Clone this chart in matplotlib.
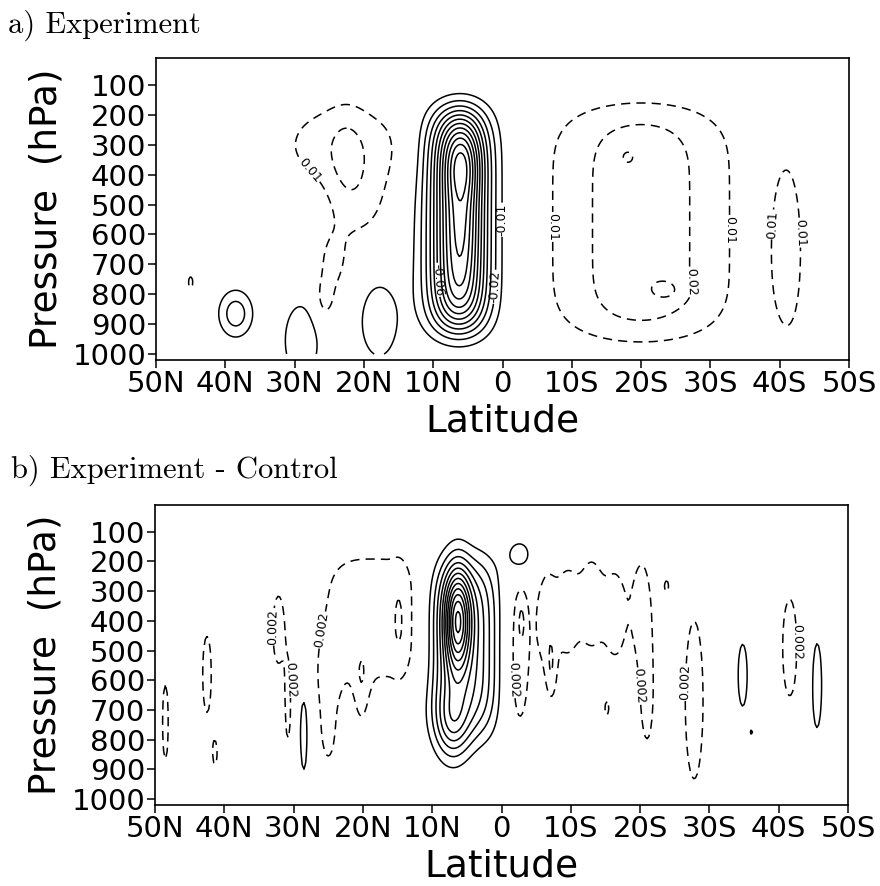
import numpy as np
import matplotlib
matplotlib.use("Agg")
import matplotlib.pyplot as plt

# latitude ticks (deg N positive) and their labels
lat_ticks = [50, 40, 30, 20, 10, 0, -10, -20, -30, -40, -50]
lat_labels = ["50N", "40N", "30N", "20N", "10N", "0", "10S", "20S", "30S", "40S", "50S"]
p_ticks = [100, 200, 300, 400, 500, 600, 700, 800, 900, 1000]

# panel a: cells
# centre lat, centre p, widths, amplitude, shape powers (lat, p)
a_lat = [6.3, 5.8, 5.8, 23.0, 22.5, 20.5, 24.5, 25.8, 38.5, 29.0, 17.8, 45.0,
         -20.0, -18.0, -23.7, -41.2]
a_p = [553, 360, 560, 300, 340, 500, 700, 830, 865, 955, 890, 760,
       560, 340, 786, 657]
a_wlat = [4.3, 2.5, 2.5, 10.0, 2.5, 4.5, 2.8, 1.6, 2.5, 2.8, 3.2, 0.8,
          12.8, 1.2, 2.5, 3.1]
a_wp = [368, 120, 200, 160, 150, 150, 130, 80, 80, 140, 150, 50,
        400, 30, 40, 420]
a_amp = [-0.10, -0.025, -0.015, 0.016, 0.008, 0.011, 0.0115, 0.011, -0.026, -0.02,
         -0.018, 0.0115,
         0.027, 0.006, 0.009, 0.0125]
a_plat = [2] * 16
a_pp = [6] + [2] * 11 + [6, 2, 2, 2]

# panel b: experiment minus control
b_lat = [5.5, 6.3, 7.0, -2.6, 48.5, 42.5, 41.3, 32.2, 30.8, 28.5, 25.0,
         18.6, 20.2, 14.8,
         -2.6, -2.9, -6.5, -9.5, -13.0, -16.5, -20.2, -7.2, -21.0,
         -15.2, -23.8, -27.8, -34.8, -36.1, -41.6, -45.5]
b_p = [490, 400, 760, 180, 741, 580, 848, 430, 700, 778, 729,
       390, 640, 400,
       530, 400, 390, 370, 340, 380, 350, 570, 650,
       697, 283, 667, 583, 775, 490, 616]
b_wlat = [4.7, 1.8, 2.5, 2.2, 0.8, 1.2, 0.6, 1.5, 0.6, 0.9, 2.0,
          8.6, 1.2, 1.0,
          2.2, 0.7, 1.6, 2.0, 2.0, 2.0, 1.6, 0.8, 1.4,
          0.6, 0.7, 2.5, 1.27, 0.3, 2.0, 1.37]
b_wp = [295, 170, 120, 72, 242, 250, 78, 210, 180, 222, 246,
        260, 150, 150,
        360, 90, 200, 200, 200, 200, 200, 110, 250,
        50, 45, 517, 203, 15, 317, 287]
b_amp = [-0.010, -0.015, -0.006, -0.0038, 0.0026, 0.0026, 0.0022, 0.0026, 0.0026,
         -0.0028, 0.0026,
         0.0028, 0.0024, 0.0018,
         0.0027, 0.0022, 0.003, 0.003, 0.003, 0.003, 0.003, 0.0026, 0.0028,
         0.0022, 0.0022, 0.0026, -0.0026, -0.0021, 0.0026, -0.0026]
b_plat = [3, 2, 2, 2, 2, 2, 2, 2, 2, 2, 2, 3] + [2] * 18
b_pp = [4, 2, 2, 2, 2, 2, 2, 2, 2, 2, 2, 4] + [2] * 18

a_pos_levels = [0.01, 0.02, 0.03]
a_neg_levels = [-0.13, -0.12, -0.11, -0.10, -0.09, -0.08, -0.07, -0.06, -0.05,
                -0.04, -0.03, -0.02, -0.01]
b_pos_levels = [0.002, 0.004]
b_neg_levels = [-0.026, -0.024, -0.022, -0.020, -0.018, -0.016, -0.014, -0.012,
                -0.010, -0.008, -0.006, -0.004, -0.002]

# label spots (lat, p)
a_label_pts = [(-0.6, 551), (1.4, 775), (9.4, 752), (29.7, 424), (-7.3, 575),
               (-31.1, 585), (-28.8, 752), (-40.0, 568), (-41.8, 595)]
b_label_pts = [(32.7, 420), (30.7, 597), (24.0, 438), (-2.2, 597), (-19.7, 620),
               (-27.2, 607), (-41.6, 472)]

lat = np.linspace(-50, 50, 401)
pres = np.linspace(50, 1000, 381)
LAT, P = np.meshgrid(lat, pres)


def build(la, pc, wl, wp, amp, pl, pp):
    z = np.zeros_like(LAT)
    for i in range(len(la)):
        z += amp[i] * np.exp(-np.abs((LAT - la[i]) / wl[i]) ** pl[i]
                             - np.abs((P - pc[i]) / wp[i]) ** pp[i])
    return z


za = build(a_lat, a_p, a_wlat, a_wp, a_amp, a_plat, a_pp)
zb = build(b_lat, b_p, b_wlat, b_wp, b_amp, b_plat, b_pp)

fig = plt.figure(figsize=(8.8, 8.86), dpi=100)
ax_a = fig.add_axes([156 / 880, 1 - 360 / 886, 693 / 880, 302 / 886])
ax_b = fig.add_axes([155 / 880, 1 - 805 / 886, 693 / 880, 300 / 886])

dash = (0, (6, 4))


def nearest(cs, x, y):
    best = np.inf
    for lev in cs.allsegs:
        for s in lev:
            if len(s) == 0:
                continue
            d = np.min(((s[:, 0] - x) / 2) ** 2 + ((s[:, 1] - y) / 30) ** 2)
            best = min(best, d)
    return best


def draw(ax, z, pos, neg, pts):
    cn = ax.contour(LAT, P, z, levels=neg, colors="k", linewidths=1.1,
                    linestyles="solid")
    cp = ax.contour(LAT, P, z, levels=pos, colors="k", linewidths=1.1,
                    linestyles=[dash])
    for x, y in pts:
        cs = cn if nearest(cn, x, y) < nearest(cp, x, y) else cp
        cs.clabel(fmt="%g", fontsize=9, inline=True, inline_spacing=2,
                  manual=[(x, y)])
    ax.set_xlim(50, -50)
    ax.set_ylim(1020, 10)
    ax.set_xticks(lat_ticks)
    ax.set_xticklabels(lat_labels)
    ax.set_yticks(p_ticks)
    ax.tick_params(direction="out", length=6, width=1.1, labelsize=21, pad=1)
    for s in ax.spines.values():
        s.set_linewidth(1.2)
    ax.set_xlabel("Latitude", fontsize=27, labelpad=4)
    ax.set_ylabel("Pressure  (hPa)", fontsize=27, labelpad=6)


draw(ax_a, za, a_pos_levels, a_neg_levels, a_label_pts)
draw(ax_b, zb, b_pos_levels, b_neg_levels, b_label_pts)

fig.text(0.009, 1 - 33 / 886, "a) Experiment", family="cmr10", fontsize=22,
         va="baseline")
fig.text(0.012, 1 - 478 / 886, "b) Experiment - Control", family="cmr10",
         fontsize=22, va="baseline")

fig.savefig("out.png", dpi=100)
